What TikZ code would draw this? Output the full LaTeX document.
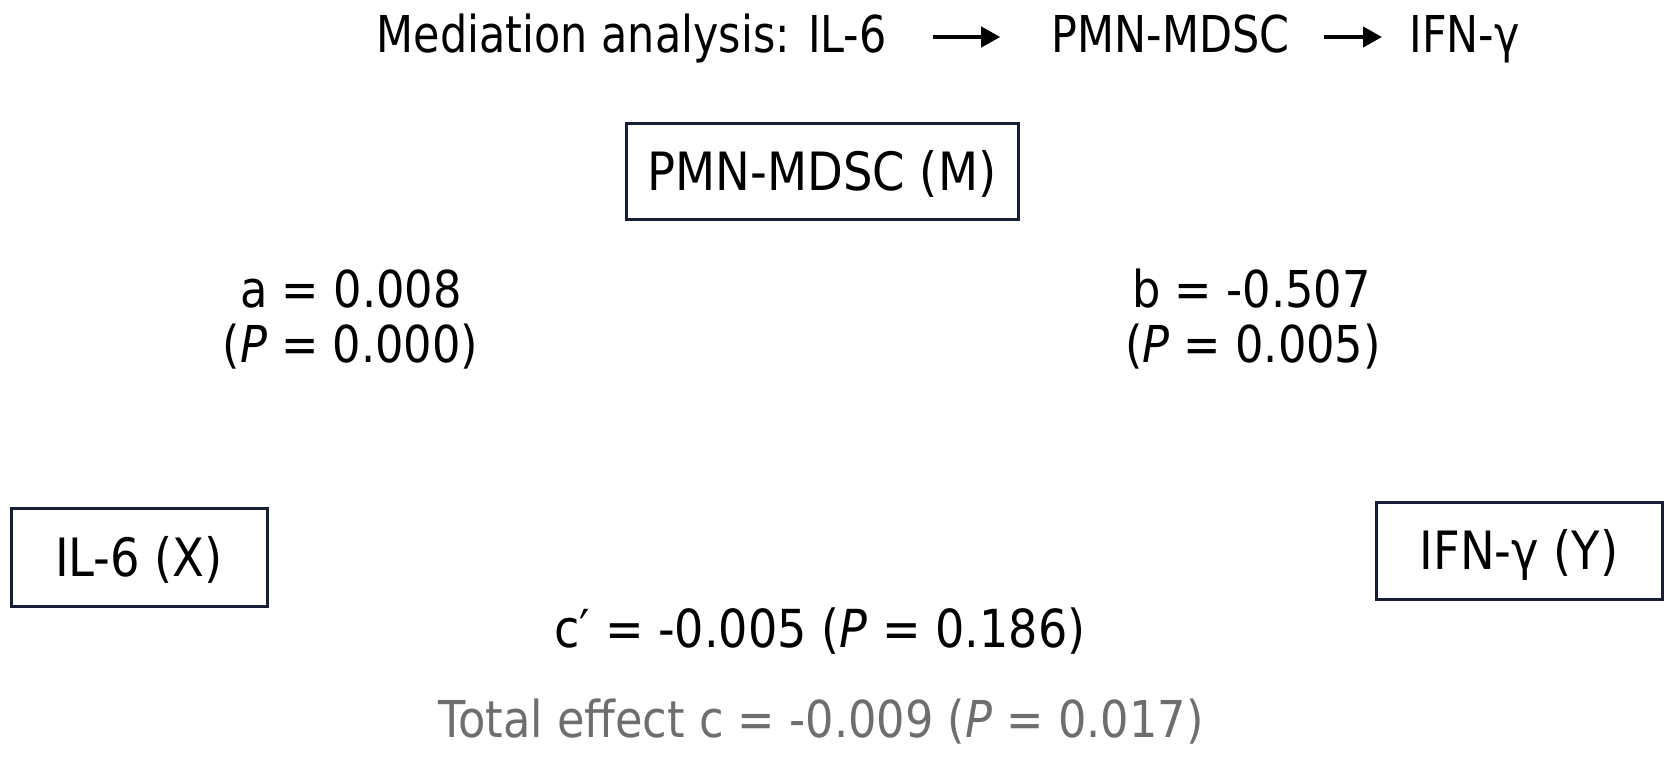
\documentclass[tikz,border=0pt]{standalone}
\usepackage{fontspec}
\setmainfont{DejaVu Sans}[FakeStretch=0.88]
\newfontfamily\titlefont{DejaVu Sans}[FakeStretch=0.845]
\usetikzlibrary{arrows.meta}
\definecolor{boxline}{RGB}{25,30,55}
\definecolor{totgray}{RGB}{110,110,110}
\begin{document}
\begin{tikzpicture}[x=0.5pt,y=-0.5pt,
  lbl/.style={anchor=base,inner sep=0pt,font=\fontsize{25.4pt}{30pt}\selectfont},
  ttl/.style={anchor=base,inner sep=0pt,font=\titlefont\fontsize{25.4pt}{30pt}\selectfont},
  var/.style={draw=boxline,line width=1.5pt,fill=white,inner sep=0pt,
    text height=19.2pt,text depth=0pt,font=\fontsize{26.4pt}{31pt}\selectfont},
  flow/.style={-{Triangle[length=9.5pt,width=10pt]},line width=2pt}]
\useasboundingbox[fill=white] (0,0) rectangle (1673,760);
% title
\node[ttl,anchor=base east] (t1) at (887,52) {Mediation analysis: IL-6};
\node[ttl] (t2) at (1170.5,52) {PMN-MDSC};
\node[ttl,anchor=base west] (t3) at (1409,52) {IFN-γ};
\draw[flow,shorten <=23pt,shorten >=25.5pt] ([yshift=7.5pt]t1.base east) -- ([yshift=7.5pt]t2.base west);
\draw[flow,shorten <=17pt,shorten >=13.5pt] ([yshift=7.5pt]t2.base east) -- ([yshift=7.5pt]t3.base west);
% variables
\node[var,minimum width=196pt,minimum height=48pt] (m) at (822,171) {PMN-MDSC (M)};
\node[var,minimum width=128pt,minimum height=49pt] (x) at (139,557) {IL-6 (X)};
\node[var,minimum width=143pt,minimum height=48.5pt] (y) at (1519,550.5) {IFN-γ (Y)};
% path coefficients
\node[lbl] (a1) at (351,307) {a = 0.008};
\node[lbl] (a2) at (350.5,362) {(\textit{P} = 0.000)};
\node[lbl] (b1) at (1251.5,307) {b = -0.507};
\node[lbl] (b2) at (1253,362) {(\textit{P} = 0.005)};
\node[lbl,font=\fontsize{26.2pt}{31pt}\selectfont] (cp) at (820,647) {c′ = -0.005 (\textit{P} = 0.186)};
\node[lbl,text=totgray] (tot) at (821,737) {Total effect c = -0.009 (\textit{P} = 0.017)};
\end{tikzpicture}
\end{document}
